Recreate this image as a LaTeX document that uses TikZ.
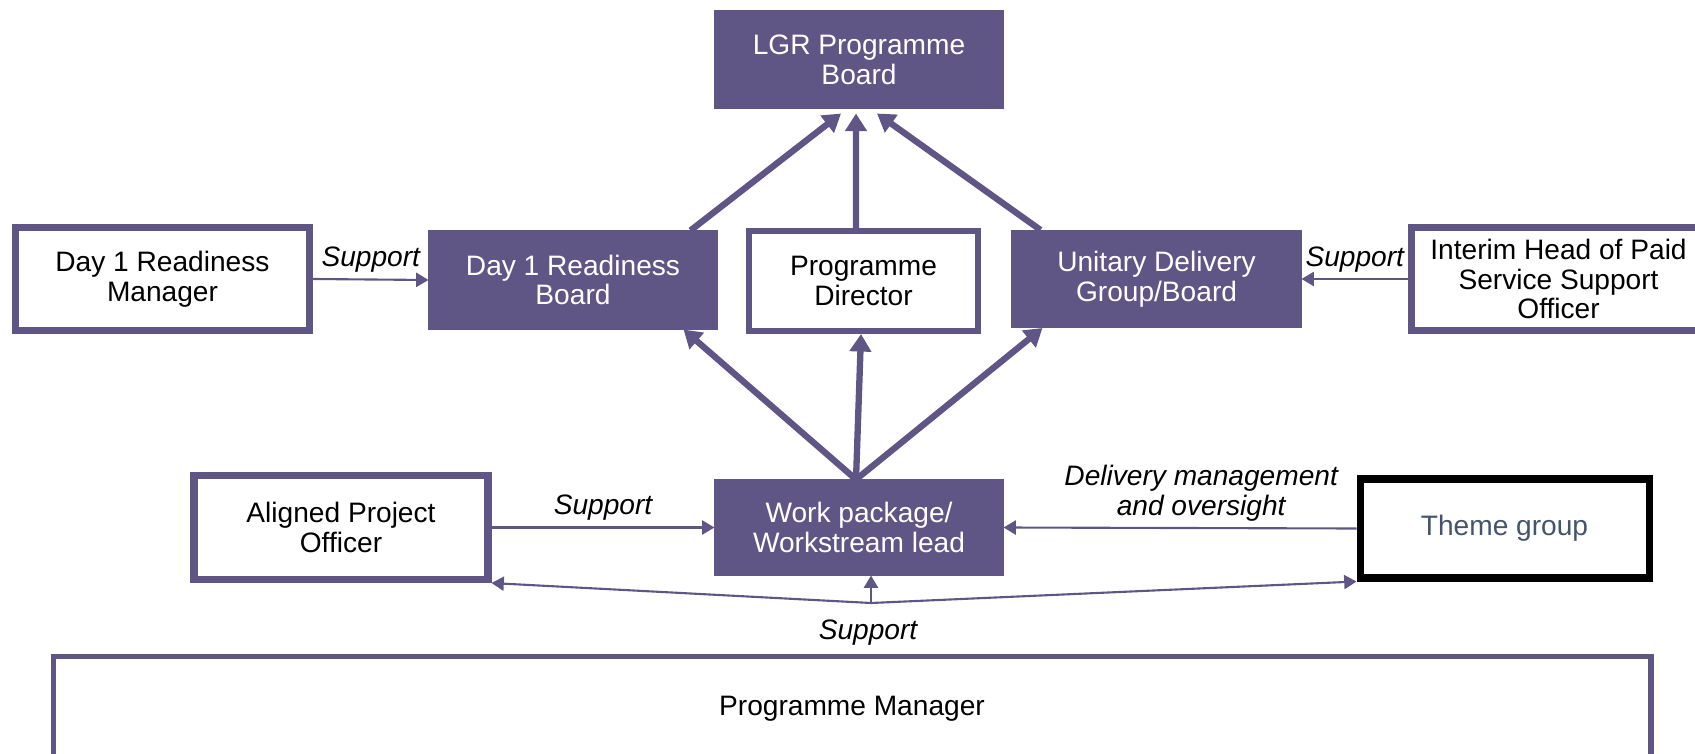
\documentclass[tikz,border=0pt]{standalone}
\usepackage{fontspec}
\setmainfont{Liberation Sans}
\usetikzlibrary{arrows.meta}
\definecolor{lgrpurple}{RGB}{95,86,134}
\definecolor{themetext}{RGB}{68,84,106}
\begin{document}
\begin{tikzpicture}[
        font=\fontsize{16}{17}\selectfont,
        box/.style={rectangle, draw=lgrpurple, line width=4pt, fill=white, align=center, inner sep=2pt},
        filled/.style={box, fill=lgrpurple, text=white, line width=0.6pt},
        uparrow/.style={-{Triangle[length=10pt,width=12pt]}, line width=3.6pt, draw=lgrpurple},
        suparrow/.style={-{Triangle[length=7pt,width=8pt]}, line width=1.2pt, draw=lgrpurple},
        lbltext/.style={font=\fontsize{16}{17}\selectfont\itshape},
        lbl/.style={lbltext, midway}
    ]
        \useasboundingbox (0,0) rectangle (33.9,-15.08);

        \node[filled, minimum width=5.76cm, minimum height=1.94cm] (lgr) at (17.18,-1.19) {LGR Programme\\Board};

        \node[box, minimum width=5.88cm, minimum height=2.06cm] (d1m) at (3.25,-5.58) {Day 1 Readiness\\Manager};
        \node[filled, minimum width=5.76cm, minimum height=1.96cm] (d1b) at (11.46,-5.6) {Day 1 Readiness\\Board};
        \node[box, line width=3.4pt, minimum width=4.58cm, minimum height=2.0cm] (pd) at (17.27,-5.62) {Programme\\Director};
        \node[filled, minimum width=5.78cm, minimum height=1.94cm] (ud) at (23.13,-5.58) {Unitary Delivery\\Group/Board};
        \node[box, minimum width=5.88cm, minimum height=2.06cm] (ih) at (31.17,-5.58) {Interim Head of Paid\\Service Support\\Officer};

        \node[box, minimum width=5.88cm, minimum height=2.08cm] (apo) at (6.82,-10.55) {Aligned Project\\Officer};
        \node[filled, minimum width=5.76cm, minimum height=1.9cm] (wp) at (17.18,-10.55) {Work package/\\Workstream lead};
        \node[box, draw=black, text=themetext, minimum width=5.78cm, minimum height=1.98cm] (tg) at (30.09,-10.57) {Theme group};

        \node[box, line width=3.4pt, minimum width=31.94cm, minimum height=2.1cm] (pm) at (17.04,-14.18) {Programme Manager};

        % towards the programme board
        \draw[uparrow] ([xshift=-0.54cm]d1b.north east) -- ([xshift=-0.36cm,yshift=-0.1cm]lgr.south);
        \draw[uparrow] ([xshift=-0.15cm]pd.north) -- ([xshift=-0.06cm,yshift=-0.1cm]lgr.south);
        \draw[uparrow] ([xshift=0.58cm]ud.north west) -- ([xshift=0.36cm,yshift=-0.1cm]lgr.south);

        % from the work package lead
        \draw[uparrow] ([xshift=-0.06cm]wp.north) -- ([xshift=-0.68cm]d1b.south east);
        \draw[uparrow] ([xshift=-0.06cm]wp.north) -- ([xshift=-0.05cm]pd.south);
        \draw[uparrow] ([xshift=-0.06cm]wp.north) -- ([xshift=0.62cm]ud.south west);

        % support links
        \draw[suparrow] (d1m.east) -- node[above, lbl]{Support} (d1b.west);
        \draw[suparrow] (ih.west) -- node[above, lbl]{Support} (ud.east);
        \draw[suparrow] (apo.east) -- node[above, lbl]{Support} (wp.west);
        \draw[suparrow] (tg.west) -- node[above, lbltext, pos=0.44, align=center]{Delivery management\\and oversight} (wp.east);

        \coordinate (br) at (17.42,-12.06);
        \draw[suparrow] (br) -- (apo.south east);
        \draw[suparrow] (br) -- (tg.south west);
        \draw[suparrow] (br) -- ([xshift=0.24cm]wp.south);
        \node[lbltext] (supbr) at (17.36,-12.65) {Support};
    \end{tikzpicture}
\end{document}
